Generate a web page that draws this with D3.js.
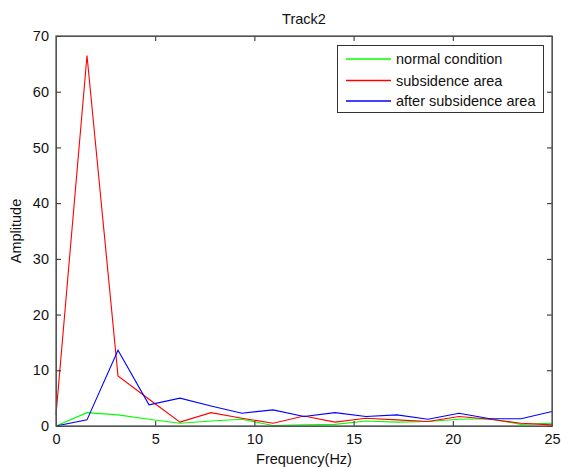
<!DOCTYPE html>
<html><head><meta charset="utf-8">
<script src="https://cdn.jsdelivr.net/npm/d3@7"></script>
<style>body{margin:0;background:#fff;}svg{display:block;font-family:"Liberation Sans",Arial,sans-serif;}</style>
</head><body><svg id="c" width="561" height="468"></svg>
<script>
const freqs = [0, 1.5625, 3.125, 4.6875, 6.25, 7.8125, 9.375, 10.9375, 12.5, 14.0625, 15.625, 17.1875, 18.75, 20.3125, 21.875, 23.4375, 25];
const normalCondition = [0, 2.4, 2.0, 1.2, 0.5, 0.9, 1.2, 0.1, 0.2, 0.3, 0.9, 0.7, 0.8, 1.2, 1.3, 0.3, 0.5];
const subsidenceArea = [2, 66.5, 9.0, 4.8, 0.7, 2.4, 1.4, 0.5, 1.8, 0.7, 1.4, 1.1, 0.8, 1.7, 1.2, 0.5, 0.2];
const afterSubsidence = [0, 1.1, 13.6, 3.8, 5.0, 3.6, 2.3, 2.9, 1.7, 2.4, 1.7, 2.0, 1.2, 2.3, 1.3, 1.3, 2.6];
const seriesNames = ["normal condition", "subsidence area", "after subsidence area"];
const seriesColors = ["#00ff00", "#ff0000", "#0000ff"];
const xTicks = [0, 5, 10, 15, 20, 25];
const yTicks = [0, 10, 20, 30, 40, 50, 60, 70];
const title = "Track2", xLabel = "Frequency(Hz)", yLabel = "Amplitude";

const svg = d3.select("#c");
const L = 56, R = 552, T = 36, B = 426;
const x = d3.scaleLinear().domain([0, 25]).range([L, R]);
const y = d3.scaleLinear().domain([0, 70]).range([B, T]);
const axisColor = "#555";
const fs = "14.5px";

// series
const seriesData = [normalCondition, subsidenceArea, afterSubsidence];
const line = d3.line().x((d, i) => x(freqs[i])).y(d => y(d));
seriesData.forEach((s, k) => {
  svg.append("path").datum(s).attr("d", line).attr("fill", "none")
    .attr("stroke", seriesColors[k]).attr("stroke-width", 1.1);
});

// axes (inward ticks, box)
function styleAxis(g) {
  g.selectAll("path.domain").attr("stroke", axisColor);
  g.selectAll(".tick line").attr("stroke", "#222");
  g.selectAll("text").attr("fill", "#111").style("font-size", fs).style("font-family", "'Liberation Sans',Arial,sans-serif");
}
const xb = svg.append("g").attr("transform", `translate(0,${B})`)
  .call(d3.axisBottom(x).tickValues(xTicks).tickSize(-5).tickSizeOuter(0).tickPadding(8));
styleAxis(xb);
const xt = svg.append("g").attr("transform", `translate(0,${T})`)
  .call(d3.axisTop(x).tickValues(xTicks).tickSize(-5).tickSizeOuter(0).tickFormat(""));
styleAxis(xt);
const yl = svg.append("g").attr("transform", `translate(${L},0)`)
  .call(d3.axisLeft(y).tickValues(yTicks).tickSize(-5).tickSizeOuter(0).tickPadding(7));
styleAxis(yl);
const yr = svg.append("g").attr("transform", `translate(${R},0)`)
  .call(d3.axisRight(y).tickValues(yTicks).tickSize(-5).tickSizeOuter(0).tickFormat(""));
styleAxis(yr);
svg.append("rect").attr("x", L).attr("y", T).attr("width", R - L).attr("height", B - T)
  .attr("fill", "none").attr("stroke", axisColor).attr("stroke-width", 1.3);

// title & labels
svg.append("text").attr("x", (L + R) / 2).attr("y", 24).attr("text-anchor", "middle")
  .style("font-size", fs).attr("fill", "#111").text(title);
svg.append("text").attr("x", (L + R) / 2).attr("y", 464).attr("text-anchor", "middle")
  .style("font-size", fs).attr("fill", "#111").text(xLabel);
svg.append("text").attr("transform", `translate(21,${(T + B) / 2}) rotate(-90)`).attr("text-anchor", "middle")
  .style("font-size", fs).attr("fill", "#111").text(yLabel);

// legend
const lg = svg.append("g");
lg.append("rect").attr("x", 337.5).attr("y", 45.5).attr("width", 206).attr("height", 67)
  .attr("fill", "#fff").attr("stroke", "#333").attr("stroke-width", 1);
const rowsY = [59, 80.5, 101];
seriesNames.forEach((n, k) => {
  lg.append("line").attr("x1", 346).attr("x2", 391).attr("y1", rowsY[k]).attr("y2", rowsY[k])
    .attr("stroke", seriesColors[k]).attr("stroke-width", 1.3);
  lg.append("text").attr("x", 396).attr("y", rowsY[k] + 5).style("font-size", fs)
    .attr("fill", "#111").text(n);
});
</script></body></html>
